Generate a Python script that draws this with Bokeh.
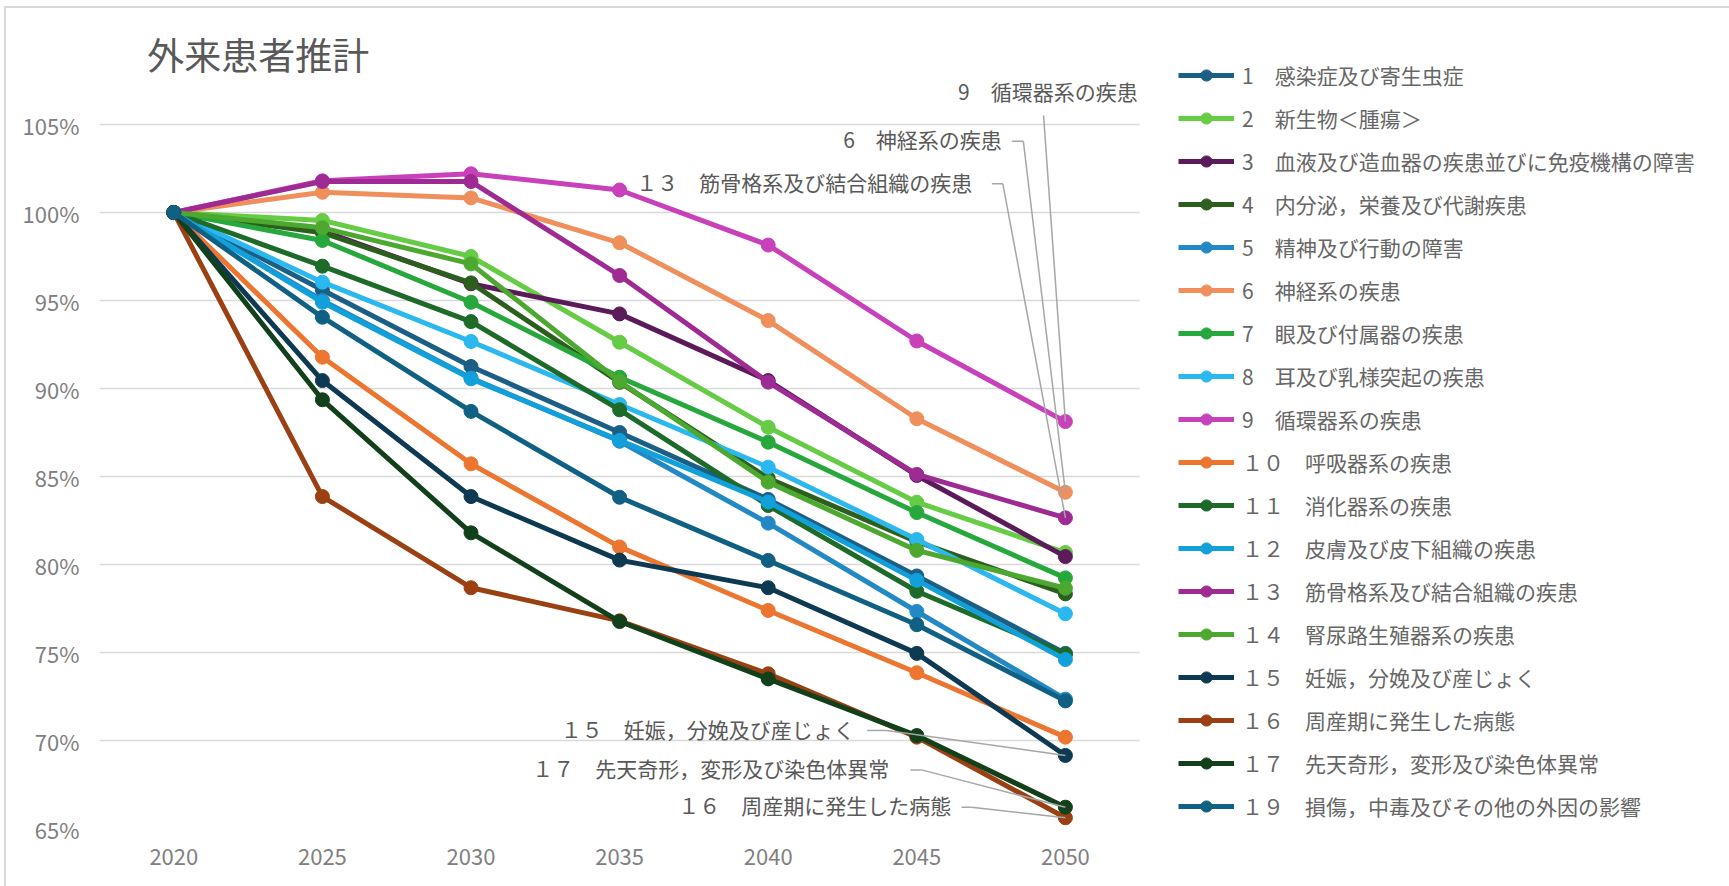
from bokeh.plotting import figure
from bokeh.models import (Legend, LegendItem, Label, Arrow, Range1d, BoxAnnotation,
                          FixedTicker, PrintfTickFormatter, ColumnDataSource)
from bokeh.embed import file_html
from bokeh.resources import INLINE

# ---------------- data ----------------
years = ["2020", "2025", "2030", "2035", "2040", "2045", "2050"]

names = [
    "1　感染症及び寄生虫症",
    "2　新生物＜腫瘍＞",
    "3　血液及び造血器の疾患並びに免疫機構の障害",
    "4　内分泌，栄養及び代謝疾患",
    "5　精神及び行動の障害",
    "6　神経系の疾患",
    "7　眼及び付属器の疾患",
    "8　耳及び乳様突起の疾患",
    "9　循環器系の疾患",
    "１０　呼吸器系の疾患",
    "１１　消化器系の疾患",
    "１２　皮膚及び皮下組織の疾患",
    "１３　筋骨格系及び結合組織の疾患",
    "１４　腎尿路生殖器系の疾患",
    "１５　妊娠，分娩及び産じょく",
    "１６　周産期に発生した病態",
    "１７　先天奇形，変形及び染色体異常",
    "１９　損傷，中毒及びその他の外因の影響",
]

s1 = [100, 95.6, 91.25, 87.5, 83.7, 79.35, 74.95]
s2 = [100, 99.55, 97.5, 92.63, 87.8, 83.54, 80.68]
s3 = [100, 98.95, 95.95, 94.24, 90.45, 85.06, 80.45]
s4 = [100, 98.85, 96.0, 90.35, 84.9, 81.3, 78.33]
s5 = [100, 95.0, 90.6, 87.0, 82.35, 77.33, 72.35]
s6 = [100, 101.15, 100.83, 98.28, 93.86, 88.28, 84.1]
s7 = [100, 98.41, 94.9, 90.64, 86.95, 82.95, 79.24]
s8 = [100, 96.04, 92.67, 89.09, 85.53, 81.42, 77.2]
s9 = [100, 101.8, 102.2, 101.28, 98.15, 92.7, 88.12]
s10 = [100, 91.78, 85.72, 81.0, 77.39, 73.85, 70.19]
s11 = [100, 96.95, 93.8, 88.79, 83.35, 78.48, 74.9]
s12 = [100, 94.9, 90.55, 87.05, 83.55, 79.1, 74.6]
s13 = [100, 101.76, 101.76, 96.42, 90.36, 85.12, 82.65]
s14 = [100, 99.13, 97.08, 90.4, 84.68, 80.8, 78.65]
s15 = [100, 90.45, 83.86, 80.25, 78.68, 74.95, 69.15]
s16 = [100, 83.86, 78.68, 76.8, 73.79, 70.19, 65.61]
s17 = [100, 89.36, 81.8, 76.76, 73.5, 70.28, 66.21]
s19 = [100, 94.05, 88.7, 83.82, 80.23, 76.58, 72.25]

series = [s1, s2, s3, s4, s5, s6, s7, s8, s9, s10, s11, s12, s13, s14, s15, s16, s17, s19]

colors = ["#1B5E86", "#66CB45", "#5B1A5A", "#2C5F1E", "#2389C4", "#EF8F5C",
          "#27A83C", "#2BB8EE", "#C840BA", "#EC7530", "#1D6A29", "#11A0DA",
          "#9E2B93", "#4DA82F", "#0D3A52", "#9A4012", "#11401A", "#0F6082"]

y_ticks = [65, 70, 75, 80, 85, 90, 95, 100, 105]

FONT = "Noto Sans CJK JP"
W, H = 1729, 886
LEFT = 99                  # plot-area left edge (px)
PX_PER_CAT = 148.6         # width of one year slot (px)
PX_PER_PCT = 17.6          # vertical scale (px per 1%)
FRAME_H = 828              # frame height; 65% line at its bottom

xs = list(range(len(years)))

# ---------------- figure ----------------
p = figure(x_range=Range1d(-0.5, -0.5 + (W - LEFT) / PX_PER_CAT),
           y_range=Range1d(65, 65 + FRAME_H / PX_PER_PCT),
           width=W, height=H, output_backend="svg", toolbar_location=None,
           min_border_left=LEFT, min_border_right=0, min_border_top=0,
           min_border_bottom=H - FRAME_H)
p.outline_line_color = None
p.background_fill_color = None
p.border_fill_color = None
p.styles = {
    "background-color": "white",
    "background-image": "linear-gradient(#D9D9D9, #D9D9D9), linear-gradient(#D9D9D9, #D9D9D9)",
    "background-size": "100% 2px, 2px 100%",
    "background-position": "4px 6px, 4px 6px",
    "background-repeat": "no-repeat",
}

p.xgrid.grid_line_color = None
p.ygrid.grid_line_color = "#D9D9D9"
p.ygrid.grid_line_width = 1.5

p.xaxis.ticker = FixedTicker(ticks=xs)
p.xaxis.major_label_overrides = {i: y for i, y in zip(xs, years)}
p.yaxis.ticker = FixedTicker(ticks=y_ticks)
p.yaxis.formatter = PrintfTickFormatter(format="%d%%")
for ax in (p.xaxis[0], p.yaxis[0]):
    ax.axis_line_color = None
    ax.major_tick_line_color = None
    ax.minor_tick_line_color = None
    ax.major_tick_out = 0
    ax.major_tick_in = 0
    ax.major_label_text_font = FONT
    ax.major_label_text_font_size = "22px"
    ax.major_label_text_color = "#808080"
p.yaxis.major_label_standoff = 20
p.xaxis.major_label_standoff = 20

# keep the gridlines inside the plot area (legend zone on the right is blank)
p.add_layout(BoxAnnotation(left=xs[-1] + 0.5, bottom=60, top=105.6,
                           fill_color="white", fill_alpha=1, line_color=None))

items = []
for name, vals, col in zip(names, series, colors):
    src = ColumnDataSource(dict(x=xs, y=vals))
    r_line = p.line("x", "y", source=src, line_color=col, line_width=5)
    r_pt = p.scatter("x", "y", source=src, size=14, color=col)
    items.append(LegendItem(label=name, renderers=[r_line, r_pt]))

legend = Legend(items=items, location=(1079, 7), glyph_width=56, glyph_height=28,
                label_height=28, spacing=13, padding=0, margin=0,
                label_standoff=8, border_line_alpha=0, background_fill_alpha=0,
                label_text_font=FONT, label_text_font_size="21px",
                label_text_color="#666666")
p.add_layout(legend, "center")

# title
p.add_layout(Label(x=-0.178, y=109.0, text="外来患者推計", text_font=FONT,
                   text_font_size="37px", text_color="#595959",
                   text_align="left", text_baseline="middle"))

# data labels with leader lines
last = xs[-1]
idx = {n.split("　")[0]: i for i, n in enumerate(names)}

def callout(key, tx, ty, stub, with_stub=True):
    i = idx[key]
    p.add_layout(Label(x=tx, y=ty + 0.1, text=names[i], text_font=FONT,
                       text_font_size="21px", text_color="#595959",
                       text_align="right", text_baseline="middle"))
    yend = series[i][-1]
    if with_stub:
        x0, x1 = stub
        p.add_layout(Arrow(end=None, x_start=x0, y_start=ty, x_end=x1, y_end=ty,
                           line_color="#A6A6A6", line_width=1.5))
        p.add_layout(Arrow(end=None, x_start=x1, y_start=ty, x_end=last, y_end=yend,
                           line_color="#A6A6A6", line_width=1.5))
    else:
        x0, y0 = stub
        p.add_layout(Arrow(end=None, x_start=x0, y_start=y0, x_end=last, y_end=yend,
                           line_color="#A6A6A6", line_width=1.5))

callout("9", 6.487, 106.8, (5.853, 105.51), with_stub=False)
callout("6", 5.572, 104.05, (5.641, 5.717))
callout("１３", 5.373, 101.63, (5.505, 5.579))
callout("１５", 4.583, 70.57, (4.666, 4.795))
callout("１７", 4.815, 68.33, (4.957, 5.032))
callout("１６", 5.231, 66.21, (5.301, 5.368))

open("out.html", "w").write(file_html(p, INLINE))
